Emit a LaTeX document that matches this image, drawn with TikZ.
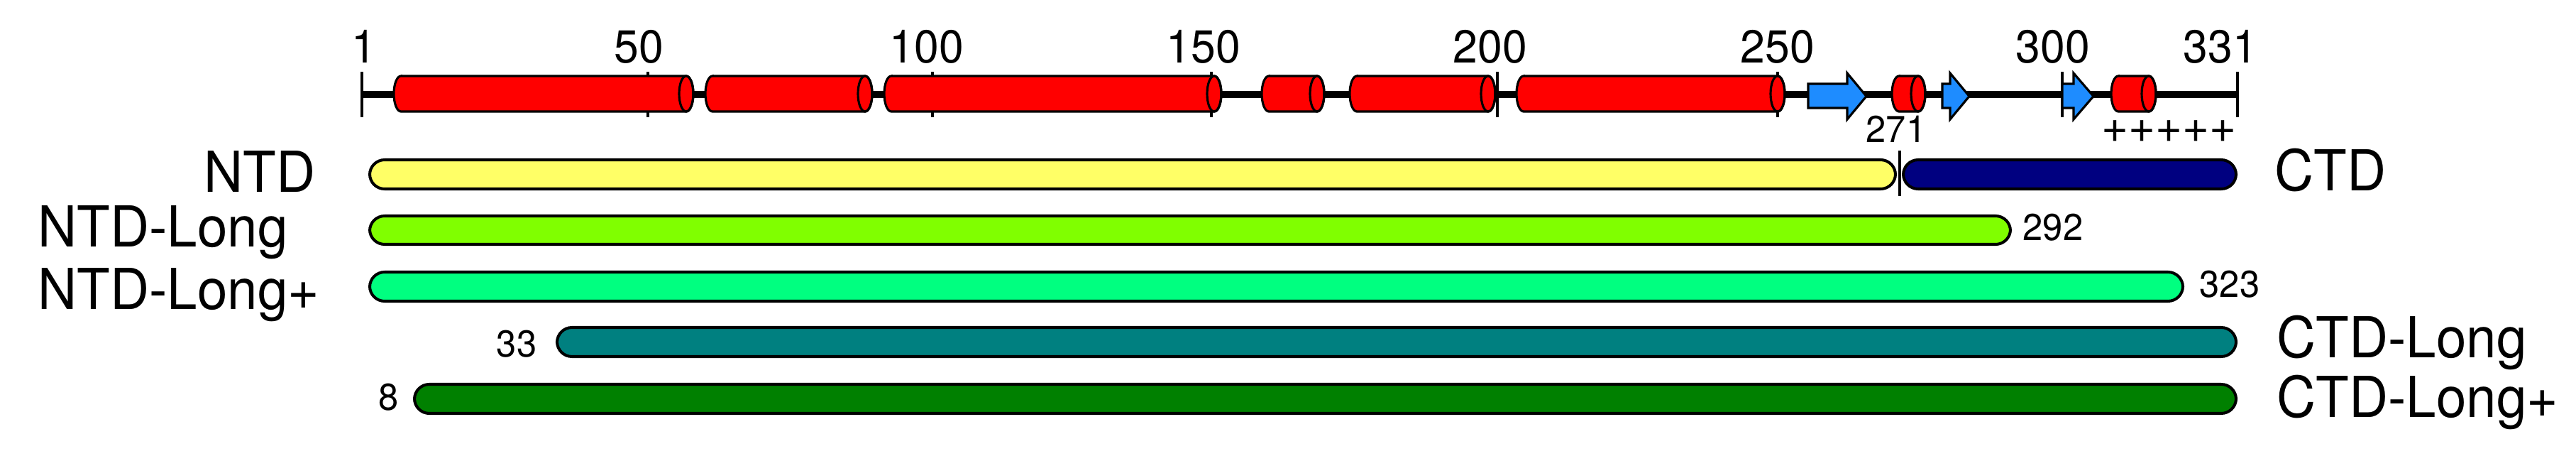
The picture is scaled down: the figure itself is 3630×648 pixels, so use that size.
\documentclass[tikz,border=0pt]{standalone}
\usepackage{fontspec}
\setmainfont{TeX Gyre Heros}
\newfontfamily\hv[FakeStretch=0.96]{TeX Gyre Heros}
\newfontfamily\hvp{TeX Gyre Heros}
\definecolor{helixred}{HTML}{FF0000}
\definecolor{strandblue}{HTML}{1E8CFF}
\definecolor{ntdc}{HTML}{FFFF66}
\definecolor{ntdl}{HTML}{80FF00}
\definecolor{ntdlp}{HTML}{00FF80}
\definecolor{ctdc}{HTML}{000080}
\definecolor{ctdl}{HTML}{008080}
\definecolor{ctdlp}{HTML}{008000}
\newcommand{\hlx}[2]{%
  \draw[hx] ({#1+10},107) -- ({#2-10},107)
    arc[start angle=90,end angle=-90,x radius=0.1cm,y radius=0.25cm]
    -- ({#1+10},157)
    arc[start angle=270,end angle=90,x radius=0.1cm,y radius=0.25cm] -- cycle;
  \draw[hx,fill=none] ({#2-10},132) ellipse[x radius=0.1cm,y radius=0.25cm];}
\newcommand{\strd}[3]{%
  \draw[st] (#1,118) -- (#2,118) -- (#2,103) -- (#3,135.5) -- (#2,168) -- (#2,152) -- (#1,152) -- cycle;}
\begin{document}
\begin{tikzpicture}[x=0.01cm,y=-0.01cm,
  tk/.style={font=\hv\fontsize{18.5}{20}\selectfont,inner sep=0},
  pl/.style={font=\hvp\fontsize{18.5}{20}\selectfont,inner sep=0},
  sm/.style={font=\hv\fontsize{15}{17}\selectfont,inner sep=0},
  lbl/.style={font=\hv\fontsize{22.6}{26}\selectfont,inner sep=0},
  bar/.style={draw=black,line width=1.15pt,rounded corners=0.21cm},
  hx/.style={fill=helixred,draw=black,line width=0.9pt},
  st/.style={fill=strandblue,draw=black,line width=0.9pt,line join=miter},
  tickln/.style={draw=black,line width=1.3pt},
  axisln/.style={draw=black,line width=2.85pt}]
\useasboundingbox (0,0) rectangle (3630,648);
% ticks
\foreach \x in {510,913,1314,1707,2110,2505,2906,3153}
  \draw[tickln] (\x,101) -- (\x,165);
% axis
\draw[axisln] (510,133) -- (3153,133);
% helices
\hlx{555}{977}
\hlx{994}{1229}
\hlx{1246}{1721}
\hlx{1778}{1866}
\hlx{1902}{2107}
\hlx{2137}{2515}
\hlx{2666}{2713}
\hlx{2975}{3038}
% strands
\strd{2548}{2603}{2630}
\strd{2737}{2748}{2775}
\strd{2906}{2922}{2950}
% tick labels
\node[tk,anchor=base] (t1) at (513,88) {1};
\node[tk,anchor=base] (t50) at (900,88) {50};
\node[tk,anchor=base] (t100) at (1306,88) {100};
\node[tk,anchor=base] (t150) at (1696,88) {150};
\node[tk,anchor=base] (t200) at (2100,88) {200};
\node[tk,anchor=base] (t250) at (2505,88) {250};
\node[tk,anchor=base] (t300) at (2893,88) {300};
\node[tk,anchor=base] (t331) at (3129,88) {331};
\node[sm,anchor=base] (t271) at (2672,200) {271};
\node[pl,anchor=base] (plus) at (3056,200) {+++++};
% bars
\draw[bar,fill=ntdc] (521,225) rectangle (2671,266);
\draw[bar,fill=ctdc] (2682,225) rectangle (3151,266);
\draw[bar,fill=ntdl] (521,304) rectangle (2833,344);
\draw[bar,fill=ntdlp] (521,383) rectangle (3076,424);
\draw[bar,fill=ctdl] (785,461) rectangle (3151,502);
\draw[bar,fill=ctdlp] (584,541) rectangle (3151,582);
\draw[line width=1.1pt] (2677,212) -- (2677,276);
% labels
\node[lbl,anchor=base east] (ntd) at (445,270) {NTD};
\node[lbl,anchor=base west] (ntdlong) at (53,347) {NTD-Long};
\node[lbl,anchor=base west] (ntdlongp) at (53,435) {NTD-Long+};
\node[lbl,anchor=base west] (ctd) at (3205,268) {CTD};
\node[lbl,anchor=base west] (ctdlong) at (3208,503) {CTD-Long};
\node[lbl,anchor=base west] (ctdlongp) at (3208,587) {CTD-Long+};
\node[sm,anchor=base west] (n292) at (2850,338) {292};
\node[sm,anchor=base west] (n323) at (3099,418) {323};
\node[sm,anchor=base east] (n33) at (757,502) {33};
\node[sm,anchor=base east] (n8) at (562,577) {8};
\end{tikzpicture}
\end{document}
